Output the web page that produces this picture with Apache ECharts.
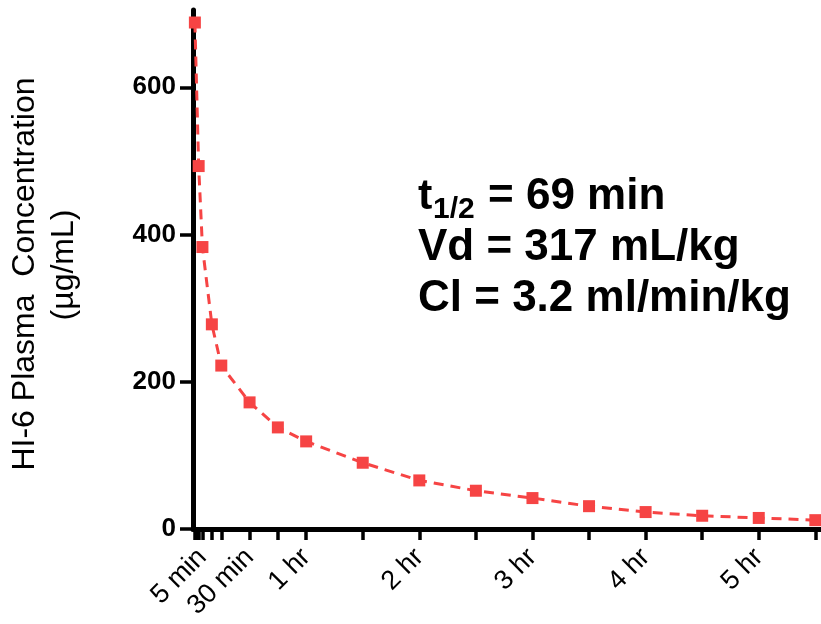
<!DOCTYPE html>
<html><head><meta charset="utf-8">
<script src="https://cdn.jsdelivr.net/npm/echarts@6/dist/echarts.min.js"></script>
<style>html,body{margin:0;padding:0;background:#fff}#c{width:821px;height:624px}</style>
</head><body><div id="c"></div>
<script>
const timesMin = [1, 3, 5, 10, 15, 30, 45, 60, 90, 120, 150, 180, 210, 240, 270, 300, 330];
const concentration = [688, 493, 383, 278, 222, 172, 138, 119, 90, 66, 52, 42, 31, 23, 18, 15, 12];
const xTickValues = [1, 2, 3, 5, 10, 15, 30, 45, 60, 90, 120, 150, 180, 210, 240, 270, 300, 330];
const xLabelValues = [5, 30, 60, 120, 180, 240, 300];
const xLabelTexts = ['5 min', '30 min', '1 hr', '2 hr', '3 hr', '4 hr', '5 hr'];
const yTickValues = [0, 200, 400, 600];
const yTitleLines = ['HI-6 Plasma  Concentration', '(µg/mL)'];
const statLines = ['t', '1/2', '= 69 min', 'Vd = 317 mL/kg', 'Cl = 3.2 ml/min/kg'];

const FONT = '"Liberation Sans", Arial, sans-serif';
const chart = echarts.init(document.getElementById('c'), null, {renderer: 'canvas'});
const seriesData = timesMin.map((t, i) => [t, concentration[i]]);

chart.setOption({
  animation: false,
  backgroundColor: '#fff',
  grid: {left: 193, top: 10, width: 630, bottom: 95, containLabel: false},
  xAxis: {
    type: 'value', min: 0, max: 333,
    splitLine: {show: false},
    axisLine: {show: true, onZero: true, lineStyle: {color: '#000', width: 5}},
    axisTick: {show: true, length: 11, lineStyle: {color: '#000', width: 3.5}, customValues: xTickValues},
    axisLabel: {
      show: true, rotate: 45, margin: 24, color: '#000',
      fontFamily: 'Liberation Sans', fontSize: 27,
      customValues: xLabelValues,
      formatter: v => { const i = xLabelValues.indexOf(v); return i >= 0 ? xLabelTexts[i] : ''; }
    }
  },
  yAxis: {
    type: 'value', min: 0, max: 705,
    splitLine: {show: false},
    axisLine: {show: true, lineStyle: {color: '#000', width: 5}},
    axisTick: {show: true, length: 13, lineStyle: {color: '#000', width: 3.5}, customValues: yTickValues},
    axisLabel: {
      show: true, margin: 17, color: '#000', fontFamily: 'Liberation Sans', fontSize: 26, fontWeight: 'bold',
      customValues: yTickValues
    }
  },
  series: [{
    type: 'line',
    data: seriesData,
    symbol: 'rect', symbolSize: 12,
    itemStyle: {color: '#f64444'},
    lineStyle: {color: '#f64444', width: 3, type: [10, 7]},
    clip: false,
    z: 5
  }],
  graphic: [
    {type: 'text', x: 25, y: 274, rotation: Math.PI / 2,
     style: {text: yTitleLines[0], font: '32px ' + FONT, fill: '#000', align: 'center', verticalAlign: 'middle'}},
    {type: 'text', x: 64, y: 265, rotation: Math.PI / 2,
     style: {text: yTitleLines[1], font: '32px ' + FONT, fill: '#000', align: 'center', verticalAlign: 'middle'}},
    {type: 'text', x: 418, y: 197,
     style: {text: statLines[0], font: 'bold 43px ' + FONT, fill: '#000', align: 'left', verticalAlign: 'middle'}},
    {type: 'text', x: 433, y: 210,
     style: {text: statLines[1], font: 'bold 30px ' + FONT, fill: '#000', align: 'left', verticalAlign: 'middle'}},
    {type: 'text', x: 488, y: 197,
     style: {text: statLines[2], font: 'bold 44px ' + FONT, fill: '#000', align: 'left', verticalAlign: 'middle'}},
    {type: 'text', x: 418, y: 248,
     style: {text: statLines[3], font: 'bold 44px ' + FONT, fill: '#000', align: 'left', verticalAlign: 'middle'}},
    {type: 'text', x: 418, y: 299,
     style: {text: statLines[4], font: 'bold 44px ' + FONT, fill: '#000', align: 'left', verticalAlign: 'middle'}}
  ]
});
</script></body></html>
